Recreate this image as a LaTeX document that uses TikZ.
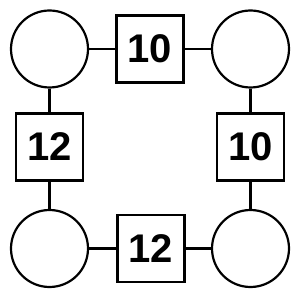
\documentclass[tikz,border=0pt]{standalone}
\usepackage{fontspec}
\setmainfont{Liberation Sans}
\begin{document}
\begin{tikzpicture}[x=1pt,y=1pt,
  ring/.style={draw, line width=2.2pt, circle, minimum size=77pt, inner sep=0pt},
  box/.style={draw, line width=2.2pt, rectangle, minimum size=67pt, inner sep=0pt, font=\fontsize{40}{40}\selectfont\bfseries},
  link/.style={line width=2.2pt}]
\useasboundingbox (0,0) rectangle (300,300);
\node[ring] (c1) at (49.5,251) {};
\node[ring] (c2) at (250.5,251) {};
\node[ring] (c3) at (49.5,51.5) {};
\node[ring] (c4) at (250.5,51.5) {};
\node[box] (b1) at (150,251) {10};
\node[box] (b2) at (49.5,153) {12};
\node[box] (b3) at (250.5,153) {10};
\node[box] (b4) at (151,51.5) {12};
\draw[link] (c1) -- (b1);
\draw[link] (b1) -- (c2);
\draw[link] (c1) -- (b2);
\draw[link] (b2) -- (c3);
\draw[link] (c2) -- (b3);
\draw[link] (b3) -- (c4);
\draw[link] (c3) -- (b4);
\draw[link] (b4) -- (c4);
\end{tikzpicture}
\end{document}
